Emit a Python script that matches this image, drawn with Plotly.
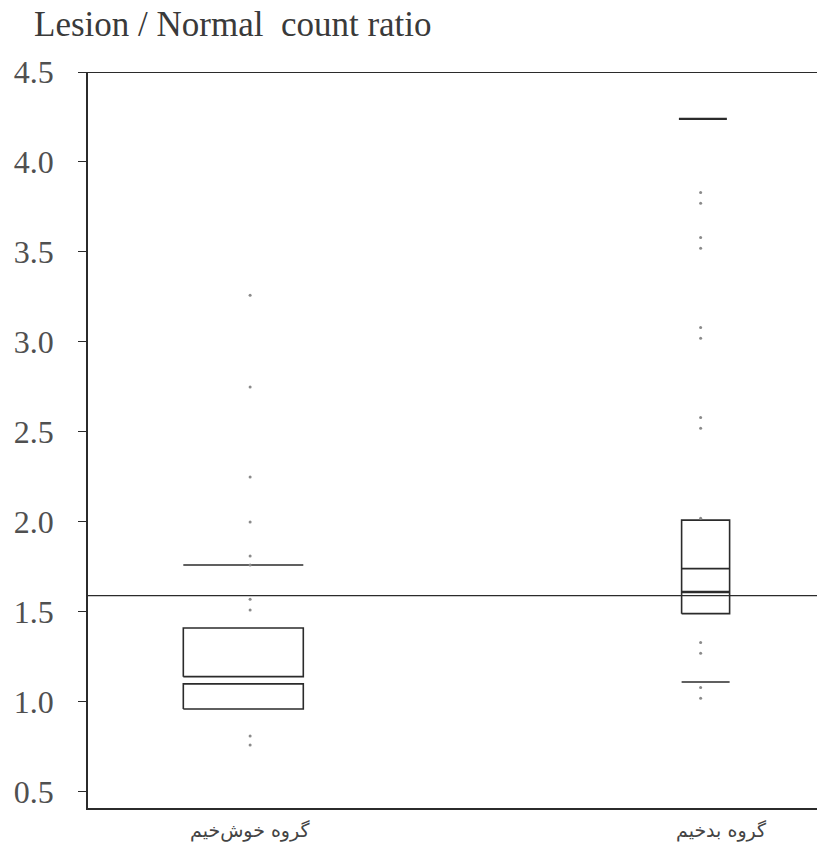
import plotly.graph_objects as go

# ---- data ----
categories = ["گروه خوش‌خیم", "گروه بدخیم"]
y_ticks = [0.5, 1.0, 1.5, 2.0, 2.5, 3.0, 3.5, 4.0, 4.5]

# benign group: box drawn as two rectangles (lower part, upper part)
benign_box_low = [0.96, 1.10]
benign_box_high = [1.14, 1.41]
benign_upper_cap = 1.76
benign_points = [3.26, 2.75, 2.25, 2.00, 1.81, 1.76, 1.57, 1.51, 0.81, 0.76]

# malignant group
malignant_box = [1.49, 2.01]
malignant_q_line = 1.74
malignant_median = 1.61
malignant_upper_cap = 4.24
malignant_lower_cap = 1.11
malignant_points = [3.83, 3.77, 3.58, 3.52, 3.08, 3.02, 2.58, 2.52, 2.02,
                    1.33, 1.27, 1.08, 1.02]

reference_line = 1.59

LINE = "#2b2b2b"
DOT = "#8a8a8a"

fig = go.Figure()


def rect(cx, hw, lo, hi, width=1.6):
    fig.add_trace(go.Scatter(
        x=[cx - hw, cx + hw, cx + hw, cx - hw, cx - hw],
        y=[lo, lo, hi, hi, lo], mode="lines",
        line=dict(color=LINE, width=width), hoverinfo="skip", showlegend=False))


def hline(cx, hw, yv, width=1.6):
    fig.add_trace(go.Scatter(
        x=[cx - hw, cx + hw], y=[yv, yv], mode="lines",
        line=dict(color=LINE, width=width), hoverinfo="skip", showlegend=False))


# benign (category 0)
b_c, b_hw = -0.015, 0.1325
rect(b_c, b_hw, *benign_box_low)
rect(b_c, b_hw, *benign_box_high)
hline(b_c, b_hw, benign_upper_cap)
fig.add_trace(go.Scatter(x=[0] * len(benign_points), y=benign_points, mode="markers",
                         marker=dict(color=DOT, size=3), showlegend=False))

# malignant (category 1)
m_c, m_hw = 1.006, 0.053
rect(m_c, m_hw, *malignant_box)
hline(m_c, m_hw, malignant_q_line)
hline(m_c, m_hw, malignant_median, width=2.6)
hline(m_c - 0.006, m_hw, malignant_upper_cap, width=2.2)
hline(m_c, m_hw, malignant_lower_cap)
fig.add_trace(go.Scatter(x=[0.995] * len(malignant_points), y=malignant_points, mode="markers",
                         marker=dict(color=DOT, size=3), showlegend=False))

# reference line across plot
fig.add_shape(type="line", xref="paper", x0=0, x1=1, yref="y", y0=reference_line, y1=reference_line,
              line=dict(color=LINE, width=1.4))
# top border
fig.add_shape(type="line", xref="paper", x0=0, x1=1, yref="y", y0=4.5, y1=4.5,
              line=dict(color=LINE, width=1.8))

fig.add_annotation(text="Lesion / Normal  count ratio", xref="paper", yref="paper",
                   x=-0.0772, y=1.064, xanchor="left", yanchor="middle", showarrow=False,
                   font=dict(family="Liberation Serif", size=35, color="#3a3a3a"))

# category labels under the axis
for xv, lab in zip([0, 1.04], categories):
    fig.add_annotation(text=lab, xref="x", yref="paper", x=xv, y=-0.03,
                       xanchor="center", yanchor="middle", showarrow=False,
                       font=dict(family="DejaVu Sans", size=19, color="#444"))

fig.update_layout(
    width=817, height=853,
    margin=dict(l=88, r=0, t=72, b=45),
    plot_bgcolor="white", paper_bgcolor="white",
    xaxis=dict(range=[-0.358, 1.252], tickvals=[0, 1], showticklabels=False,
               showgrid=False, zeroline=False, showline=True, linecolor=LINE, linewidth=1.6,
               ticks=""),
    yaxis=dict(range=[0.41, 4.5], tickvals=y_ticks, tickformat=".1f",
               showgrid=False, zeroline=False, showline=True, linecolor=LINE, linewidth=1.6,
               ticks="outside", ticklen=8, tickcolor=LINE, ticklabelstandoff=18,
               tickfont=dict(family="Liberation Serif", size=32, color="#505050")),
)

fig.write_html("out.html", config={"displayModeBar": False},
               post_script="document.body.style.margin='0';document.body.style.overflow='hidden';")
